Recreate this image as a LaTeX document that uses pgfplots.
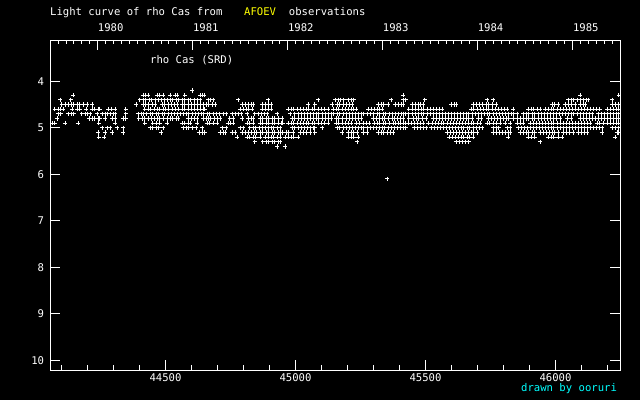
\documentclass[border=0pt]{standalone}
\usepackage{fontspec}
\setmainfont{DejaVu Sans Mono}
\usepackage{pgfplots}
\pgfplotsset{compat=1.18}
\definecolor{ayellow}{RGB}{255,255,0}
\definecolor{acyan}{RGB}{0,255,255}
\newcommand{\ff}{\fontsize{10.6bp}{12bp}\selectfont}
\begin{document}
\begin{tikzpicture}
\path[use as bounding box, fill=black] (0,0) rectangle (640bp,400bp);
\pgfplotsset{
 common/.style={at={(50bp,30bp)}, anchor=south west, scale only axis,
   width=570bp, height=330bp, xmin=44056, xmax=46248, ymin=3.112, ymax=10.209,
   y dir=reverse, axis line style={white, line width=1bp}, scaled x ticks=false, scaled y ticks=false,
   tick style={white, line width=1bp}, major tick length=10bp, minor tick length=5bp,
   tick align=inside, ticklabel style={font=\ff, text=white}},
 pt/.style={only marks, mark=+, mark size=2.2bp, white, mark options={line width=1bp}},
}
\begin{axis}[common,
  xtick pos=lower, xtick={44500,45000,45500,46000}, xticklabels={44500,45000,45500,46000},
  minor xtick={44100,44200,44300,44400,44600,44700,44800,44900,45100,45200,45300,45400,45600,45700,45800,45900,46100,46200},
  xticklabel style={anchor=base, inner sep=0pt, yshift=-11.7bp},
  ytick={4,5,6,7,8,9,10}, yticklabels={4,5,6,7,8,9,10}, ytick pos=both, yticklabel pos=left,
  yticklabel style={anchor=east, inner sep=0pt, xshift=-5.7bp}]
\addplot[pt] coordinates {(44603,4.2)};
\addplot[pt] coordinates {(44145,4.3)(44414,4.3)(44425,4.3)(44433,4.3)(44468,4.3)(44479,4.3)(44491,4.3)(44518,4.3)(44537,4.3)(44545,4.3)(44575,4.3)(44633,4.3)(44641,4.3)(44649,4.3)(45414,4.3)(46095,4.3)(46244,4.3)};
\addplot[pt] coordinates {(44095,4.4)(44136,4.4)(44402,4.4)(44414,4.4)(44425,4.4)(44437,4.4)(44448,4.4)(44460,4.4)(44472,4.4)(44483,4.4)(44495,4.4)(44506,4.4)(44518,4.4)(44529,4.4)(44541,4.4)(44552,4.4)(44564,4.4)(44575,4.4)(44587,4.4)(44598,4.4)(44610,4.4)(44622,4.4)(44633,4.4)(44664,4.4)(44675,4.4)(44683,4.4)(44780,4.4)(44895,4.4)(45087,4.4)(45152,4.4)(45164,4.4)(45175,4.4)(45186,4.4)(45203,4.4)(45214,4.4)(45225,4.4)(45368,4.4)(45414,4.4)(45425,4.4)(45498,4.4)(45737,4.4)(45760,4.4)(46049,4.4)(46060,4.4)(46071,4.4)(46083,4.4)(46095,4.4)(46107,4.4)(46118,4.4)(46126,4.4)(46218,4.4)};
\addplot[pt] coordinates {(44102,4.5)(44114,4.5)(44126,4.5)(44137,4.5)(44148,4.5)(44160,4.5)(44171,4.5)(44183,4.5)(44199,4.5)(44218,4.5)(44387,4.5)(44414,4.5)(44425,4.5)(44433,4.5)(44449,4.5)(44460,4.5)(44487,4.5)(44498,4.5)(44510,4.5)(44522,4.5)(44533,4.5)(44545,4.5)(44564,4.5)(44575,4.5)(44587,4.5)(44599,4.5)(44610,4.5)(44622,4.5)(44633,4.5)(44645,4.5)(44656,4.5)(44667,4.5)(44679,4.5)(44691,4.5)(44795,4.5)(44806,4.5)(44818,4.5)(44829,4.5)(44837,4.5)(44872,4.5)(44883,4.5)(44895,4.5)(44906,4.5)(45049,4.5)(45075,4.5)(45141,4.5)(45160,4.5)(45171,4.5)(45183,4.5)(45195,4.5)(45206,4.5)(45218,4.5)(45318,4.5)(45329,4.5)(45340,4.5)(45356,4.5)(45383,4.5)(45395,4.5)(45406,4.5)(45414,4.5)(45449,4.5)(45460,4.5)(45472,4.5)(45479,4.5)(45491,4.5)(45599,4.5)(45610,4.5)(45618,4.5)(45683,4.5)(45695,4.5)(45706,4.5)(45718,4.5)(45733,4.5)(45744,4.5)(45756,4.5)(45772,4.5)(45987,4.5)(45998,4.5)(46010,4.5)(46037,4.5)(46049,4.5)(46060,4.5)(46075,4.5)(46095,4.5)(46107,4.5)(46114,4.5)(46218,4.5)(46229,4.5)(46241,4.5)};
\addplot[pt] coordinates {(44075,4.6)(44087,4.6)(44098,4.6)(44106,4.6)(44141,4.6)(44160,4.6)(44171,4.6)(44195,4.6)(44218,4.6)(44229,4.6)(44241,4.6)(44248,4.6)(44280,4.6)(44291,4.6)(44306,4.6)(44348,4.6)(44421,4.6)(44433,4.6)(44441,4.6)(44456,4.6)(44468,4.6)(44479,4.6)(44491,4.6)(44502,4.6)(44513,4.6)(44526,4.6)(44537,4.6)(44549,4.6)(44564,4.6)(44575,4.6)(44587,4.6)(44599,4.6)(44610,4.6)(44622,4.6)(44633,4.6)(44645,4.6)(44652,4.6)(44787,4.6)(44799,4.6)(44810,4.6)(44821,4.6)(44833,4.6)(44872,4.6)(44883,4.6)(44895,4.6)(44906,4.6)(44972,4.6)(44983,4.6)(44994,4.6)(45006,4.6)(45018,4.6)(45029,4.6)(45041,4.6)(45052,4.6)(45064,4.6)(45075,4.6)(45087,4.6)(45099,4.6)(45110,4.6)(45126,4.6)(45145,4.6)(45156,4.6)(45167,4.6)(45179,4.6)(45191,4.6)(45203,4.6)(45214,4.6)(45222,4.6)(45233,4.6)(45280,4.6)(45291,4.6)(45302,4.6)(45314,4.6)(45325,4.6)(45333,4.6)(45436,4.6)(45449,4.6)(45460,4.6)(45472,4.6)(45483,4.6)(45494,4.6)(45506,4.6)(45518,4.6)(45530,4.6)(45541,4.6)(45552,4.6)(45564,4.6)(45675,4.6)(45686,4.6)(45699,4.6)(45710,4.6)(45722,4.6)(45733,4.6)(45744,4.6)(45756,4.6)(45768,4.6)(45780,4.6)(45791,4.6)(45802,4.6)(45814,4.6)(45837,4.6)(45895,4.6)(45906,4.6)(45917,4.6)(45929,4.6)(45941,4.6)(45960,4.6)(45972,4.6)(45983,4.6)(45994,4.6)(46006,4.6)(46018,4.6)(46029,4.6)(46041,4.6)(46052,4.6)(46064,4.6)(46075,4.6)(46087,4.6)(46099,4.6)(46110,4.6)(46122,4.6)(46133,4.6)(46145,4.6)(46156,4.6)(46171,4.6)(46199,4.6)(46210,4.6)(46222,4.6)(46233,4.6)(46244,4.6)};
\addplot[pt] coordinates {(44087,4.7)(44098,4.7)(44126,4.7)(44137,4.7)(44148,4.7)(44179,4.7)(44191,4.7)(44202,4.7)(44210,4.7)(44237,4.7)(44256,4.7)(44268,4.7)(44276,4.7)(44287,4.7)(44299,4.7)(44306,4.7)(44348,4.7)(44395,4.7)(44406,4.7)(44417,4.7)(44429,4.7)(44441,4.7)(44452,4.7)(44464,4.7)(44475,4.7)(44487,4.7)(44498,4.7)(44510,4.7)(44522,4.7)(44533,4.7)(44545,4.7)(44556,4.7)(44568,4.7)(44579,4.7)(44590,4.7)(44603,4.7)(44614,4.7)(44626,4.7)(44637,4.7)(44648,4.7)(44660,4.7)(44671,4.7)(44683,4.7)(44695,4.7)(44706,4.7)(44722,4.7)(44733,4.7)(44756,4.7)(44768,4.7)(44780,4.7)(44791,4.7)(44814,4.7)(44844,4.7)(44856,4.7)(44868,4.7)(44879,4.7)(44891,4.7)(44929,4.7)(44979,4.7)(44998,4.7)(45010,4.7)(45022,4.7)(45033,4.7)(45045,4.7)(45056,4.7)(45068,4.7)(45079,4.7)(45090,4.7)(45102,4.7)(45114,4.7)(45126,4.7)(45137,4.7)(45148,4.7)(45160,4.7)(45171,4.7)(45183,4.7)(45195,4.7)(45206,4.7)(45218,4.7)(45229,4.7)(45241,4.7)(45252,4.7)(45263,4.7)(45276,4.7)(45287,4.7)(45299,4.7)(45314,4.7)(45325,4.7)(45337,4.7)(45348,4.7)(45360,4.7)(45372,4.7)(45383,4.7)(45395,4.7)(45406,4.7)(45417,4.7)(45425,4.7)(45436,4.7)(45449,4.7)(45460,4.7)(45472,4.7)(45483,4.7)(45494,4.7)(45506,4.7)(45518,4.7)(45530,4.7)(45541,4.7)(45552,4.7)(45564,4.7)(45575,4.7)(45587,4.7)(45599,4.7)(45610,4.7)(45622,4.7)(45633,4.7)(45645,4.7)(45656,4.7)(45667,4.7)(45679,4.7)(45691,4.7)(45702,4.7)(45714,4.7)(45725,4.7)(45737,4.7)(45748,4.7)(45760,4.7)(45772,4.7)(45783,4.7)(45795,4.7)(45806,4.7)(45818,4.7)(45829,4.7)(45840,4.7)(45852,4.7)(45876,4.7)(45887,4.7)(45898,4.7)(45910,4.7)(45921,4.7)(45933,4.7)(45945,4.7)(45956,4.7)(45968,4.7)(45979,4.7)(45991,4.7)(46002,4.7)(46014,4.7)(46025,4.7)(46037,4.7)(46049,4.7)(46060,4.7)(46071,4.7)(46083,4.7)(46095,4.7)(46107,4.7)(46118,4.7)(46129,4.7)(46141,4.7)(46164,4.7)(46175,4.7)(46187,4.7)(46199,4.7)(46210,4.7)(46222,4.7)(46233,4.7)(46244,4.7)};
\addplot[pt] coordinates {(44083,4.8)(44206,4.8)(44218,4.8)(44229,4.8)(44241,4.8)(44248,4.8)(44268,4.8)(44295,4.8)(44306,4.8)(44337,4.8)(44348,4.8)(44398,4.8)(44410,4.8)(44421,4.8)(44433,4.8)(44445,4.8)(44456,4.8)(44468,4.8)(44479,4.8)(44491,4.8)(44506,4.8)(44518,4.8)(44529,4.8)(44541,4.8)(44549,4.8)(44587,4.8)(44599,4.8)(44610,4.8)(44622,4.8)(44645,4.8)(44656,4.8)(44664,4.8)(44675,4.8)(44687,4.8)(44699,4.8)(44710,4.8)(44748,4.8)(44760,4.8)(44795,4.8)(44818,4.8)(44829,4.8)(44837,4.8)(44864,4.8)(44875,4.8)(44887,4.8)(44898,4.8)(44910,4.8)(44921,4.8)(44933,4.8)(44949,4.8)(44987,4.8)(44998,4.8)(45010,4.8)(45022,4.8)(45033,4.8)(45045,4.8)(45056,4.8)(45068,4.8)(45079,4.8)(45090,4.8)(45102,4.8)(45114,4.8)(45126,4.8)(45137,4.8)(45156,4.8)(45167,4.8)(45179,4.8)(45195,4.8)(45206,4.8)(45218,4.8)(45229,4.8)(45241,4.8)(45252,4.8)(45299,4.8)(45310,4.8)(45322,4.8)(45333,4.8)(45344,4.8)(45356,4.8)(45372,4.8)(45379,4.8)(45391,4.8)(45402,4.8)(45414,4.8)(45436,4.8)(45453,4.8)(45464,4.8)(45475,4.8)(45487,4.8)(45502,4.8)(45530,4.8)(45541,4.8)(45552,4.8)(45564,4.8)(45575,4.8)(45587,4.8)(45599,4.8)(45610,4.8)(45622,4.8)(45633,4.8)(45645,4.8)(45656,4.8)(45667,4.8)(45679,4.8)(45702,4.8)(45714,4.8)(45741,4.8)(45752,4.8)(45764,4.8)(45776,4.8)(45787,4.8)(45799,4.8)(45810,4.8)(45821,4.8)(45837,4.8)(45852,4.8)(45864,4.8)(45876,4.8)(45887,4.8)(45898,4.8)(45910,4.8)(45921,4.8)(45933,4.8)(45945,4.8)(45956,4.8)(45968,4.8)(45979,4.8)(45991,4.8)(46002,4.8)(46018,4.8)(46045,4.8)(46060,4.8)(46095,4.8)(46107,4.8)(46118,4.8)(46129,4.8)(46141,4.8)(46152,4.8)(46164,4.8)(46175,4.8)(46187,4.8)(46199,4.8)(46210,4.8)(46222,4.8)(46233,4.8)(46244,4.8)};
\addplot[pt] coordinates {(44064,4.9)(44075,4.9)(44114,4.9)(44164,4.9)(44244,4.9)(44306,4.9)(44421,4.9)(44452,4.9)(44464,4.9)(44479,4.9)(44506,4.9)(44564,4.9)(44575,4.9)(44587,4.9)(44595,4.9)(44622,4.9)(44660,4.9)(44671,4.9)(44683,4.9)(44699,4.9)(44741,4.9)(44752,4.9)(44760,4.9)(44814,4.9)(44825,4.9)(44837,4.9)(44864,4.9)(44875,4.9)(44887,4.9)(44898,4.9)(44910,4.9)(44921,4.9)(44933,4.9)(44945,4.9)(44952,4.9)(44972,4.9)(44983,4.9)(44994,4.9)(45006,4.9)(45018,4.9)(45029,4.9)(45041,4.9)(45052,4.9)(45064,4.9)(45075,4.9)(45087,4.9)(45099,4.9)(45110,4.9)(45126,4.9)(45156,4.9)(45167,4.9)(45179,4.9)(45191,4.9)(45203,4.9)(45214,4.9)(45233,4.9)(45245,4.9)(45260,4.9)(45272,4.9)(45283,4.9)(45302,4.9)(45314,4.9)(45325,4.9)(45337,4.9)(45348,4.9)(45360,4.9)(45376,4.9)(45383,4.9)(45398,4.9)(45402,4.9)(45414,4.9)(45425,4.9)(45433,4.9)(45445,4.9)(45456,4.9)(45468,4.9)(45479,4.9)(45491,4.9)(45510,4.9)(45526,4.9)(45537,4.9)(45549,4.9)(45560,4.9)(45571,4.9)(45583,4.9)(45595,4.9)(45606,4.9)(45618,4.9)(45629,4.9)(45641,4.9)(45652,4.9)(45664,4.9)(45675,4.9)(45686,4.9)(45699,4.9)(45710,4.9)(45737,4.9)(45748,4.9)(45760,4.9)(45772,4.9)(45787,4.9)(45806,4.9)(45825,4.9)(45852,4.9)(45864,4.9)(45876,4.9)(45902,4.9)(45914,4.9)(45925,4.9)(45937,4.9)(45949,4.9)(45960,4.9)(45972,4.9)(45983,4.9)(45994,4.9)(46006,4.9)(46018,4.9)(46029,4.9)(46041,4.9)(46052,4.9)(46064,4.9)(46075,4.9)(46087,4.9)(46099,4.9)(46110,4.9)(46122,4.9)(46133,4.9)(46160,4.9)(46171,4.9)(46183,4.9)(46199,4.9)(46210,4.9)(46222,4.9)(46233,4.9)(46244,4.9)};
\addplot[pt] coordinates {(44256,5.0)(44276,5.0)(44287,5.0)(44314,5.0)(44337,5.0)(44441,5.0)(44452,5.0)(44464,5.0)(44475,5.0)(44491,5.0)(44568,5.0)(44579,5.0)(44590,5.0)(44603,5.0)(44618,5.0)(44641,5.0)(44718,5.0)(44733,5.0)(44787,5.0)(44799,5.0)(44825,5.0)(44837,5.0)(44848,5.0)(44860,5.0)(44872,5.0)(44883,5.0)(44895,5.0)(44906,5.0)(44917,5.0)(44929,5.0)(44941,5.0)(44987,5.0)(44998,5.0)(45010,5.0)(45022,5.0)(45033,5.0)(45045,5.0)(45056,5.0)(45068,5.0)(45075,5.0)(45102,5.0)(45160,5.0)(45171,5.0)(45183,5.0)(45195,5.0)(45206,5.0)(45218,5.0)(45229,5.0)(45241,5.0)(45252,5.0)(45263,5.0)(45276,5.0)(45287,5.0)(45299,5.0)(45310,5.0)(45322,5.0)(45333,5.0)(45344,5.0)(45356,5.0)(45368,5.0)(45379,5.0)(45391,5.0)(45402,5.0)(45414,5.0)(45425,5.0)(45456,5.0)(45468,5.0)(45479,5.0)(45491,5.0)(45502,5.0)(45522,5.0)(45533,5.0)(45545,5.0)(45556,5.0)(45568,5.0)(45579,5.0)(45591,5.0)(45603,5.0)(45614,5.0)(45626,5.0)(45637,5.0)(45648,5.0)(45660,5.0)(45671,5.0)(45683,5.0)(45695,5.0)(45706,5.0)(45718,5.0)(45760,5.0)(45772,5.0)(45780,5.0)(45814,5.0)(45825,5.0)(45856,5.0)(45868,5.0)(45879,5.0)(45891,5.0)(45902,5.0)(45914,5.0)(45925,5.0)(45937,5.0)(45949,5.0)(45960,5.0)(45972,5.0)(45983,5.0)(45994,5.0)(46006,5.0)(46018,5.0)(46029,5.0)(46041,5.0)(46052,5.0)(46064,5.0)(46075,5.0)(46087,5.0)(46099,5.0)(46110,5.0)(46122,5.0)(46133,5.0)(46145,5.0)(46156,5.0)(46168,5.0)(46179,5.0)(46218,5.0)(46229,5.0)(46241,5.0)};
\addplot[pt] coordinates {(44241,5.1)(44268,5.1)(44295,5.1)(44337,5.1)(44483,5.1)(44629,5.1)(44641,5.1)(44652,5.1)(44710,5.1)(44722,5.1)(44729,5.1)(44756,5.1)(44768,5.1)(44795,5.1)(44806,5.1)(44818,5.1)(44829,5.1)(44841,5.1)(44852,5.1)(44864,5.1)(44875,5.1)(44887,5.1)(44898,5.1)(44910,5.1)(44921,5.1)(44933,5.1)(44941,5.1)(44952,5.1)(44964,5.1)(44975,5.1)(44991,5.1)(45018,5.1)(45029,5.1)(45041,5.1)(45056,5.1)(45075,5.1)(45179,5.1)(45203,5.1)(45214,5.1)(45225,5.1)(45237,5.1)(45260,5.1)(45276,5.1)(45318,5.1)(45329,5.1)(45340,5.1)(45352,5.1)(45364,5.1)(45376,5.1)(45583,5.1)(45595,5.1)(45606,5.1)(45618,5.1)(45629,5.1)(45641,5.1)(45652,5.1)(45664,5.1)(45675,5.1)(45686,5.1)(45699,5.1)(45760,5.1)(45772,5.1)(45783,5.1)(45795,5.1)(45806,5.1)(45818,5.1)(45825,5.1)(45864,5.1)(45876,5.1)(45887,5.1)(45898,5.1)(45910,5.1)(45921,5.1)(45941,5.1)(45952,5.1)(45964,5.1)(45975,5.1)(45987,5.1)(45998,5.1)(46010,5.1)(46029,5.1)(46041,5.1)(46052,5.1)(46068,5.1)(46087,5.1)(46099,5.1)(46110,5.1)(46122,5.1)(46179,5.1)(46237,5.1)(46244,5.1)};
\addplot[pt] coordinates {(44244,5.2)(44264,5.2)(44776,5.2)(44814,5.2)(44825,5.2)(44837,5.2)(44848,5.2)(44864,5.2)(44883,5.2)(44895,5.2)(44906,5.2)(44917,5.2)(44929,5.2)(44941,5.2)(44960,5.2)(44972,5.2)(44983,5.2)(44994,5.2)(45010,5.2)(45203,5.2)(45214,5.2)(45225,5.2)(45241,5.2)(45591,5.2)(45603,5.2)(45614,5.2)(45626,5.2)(45637,5.2)(45648,5.2)(45660,5.2)(45671,5.2)(45683,5.2)(45818,5.2)(45895,5.2)(45906,5.2)(45921,5.2)(45972,5.2)(45983,5.2)(45994,5.2)(46010,5.2)(46025,5.2)(46229,5.2)};
\addplot[pt] coordinates {(44844,5.3)(44875,5.3)(44887,5.3)(44898,5.3)(44910,5.3)(44921,5.3)(44933,5.3)(44941,5.3)(45237,5.3)(45618,5.3)(45629,5.3)(45641,5.3)(45652,5.3)(45667,5.3)(45941,5.3)};
\addplot[pt] coordinates {(44929,5.4)(44960,5.4)};
\addplot[pt] coordinates {(45352,6.1)};
\end{axis}
\begin{axis}[common, hide y axis,
  xtick pos=upper, xticklabel pos=upper, minor tick length=4bp,
  xtick={44239.5,44605.5,44970.5,45335.5,45700.5,46066.5},
  xticklabels={1980,1981,1982,1983,1984,1985},
  xticklabel style={anchor=base west, inner sep=0pt, yshift=8.3bp},
  minor xtick={44087.3,44117.75,44148.2,44178.6,44209.1,44269.9,44300.4,44330.8,44361.3,44391.7,44422.1,44452.6,44483.0,44513.4,44543.9,44574.3,44635.9,44666.4,44696.8,44727.3,44757.7,44788.1,44818.6,44849.0,44879.4,44909.9,44940.3,45000.9,45031.4,45061.8,45092.3,45122.7,45153.1,45183.6,45214.0,45244.4,45274.9,45305.3,45365.9,45396.4,45426.8,45457.3,45487.7,45518.1,45548.6,45579.0,45609.4,45639.9,45670.3,45730.9,45761.4,45791.8,45822.3,45852.7,45883.1,45913.6,45944.0,45974.4,46004.9,46035.3,46096.9,46127.4,46157.8,46188.3,46218.7}]
\end{axis}
\node[anchor=base west, inner sep=0pt, text=white, font=\ff] at (50bp,384bp) {Light curve of rho Cas from};
\node[anchor=base west, inner sep=0pt, text=ayellow, font=\ff] at (244bp,384bp) {AFOEV};
\node[anchor=base west, inner sep=0pt, text=white, font=\ff] at (288.7bp,384bp) {observations};
\node[anchor=base west, inner sep=0pt, text=white, font=\ff] at (150bp,336bp) {rho Cas (SRD)};
\node[anchor=base west, inner sep=0pt, text=acyan, font=\ff] at (521bp,9bp) {drawn by ooruri};
\end{tikzpicture}
\end{document}
